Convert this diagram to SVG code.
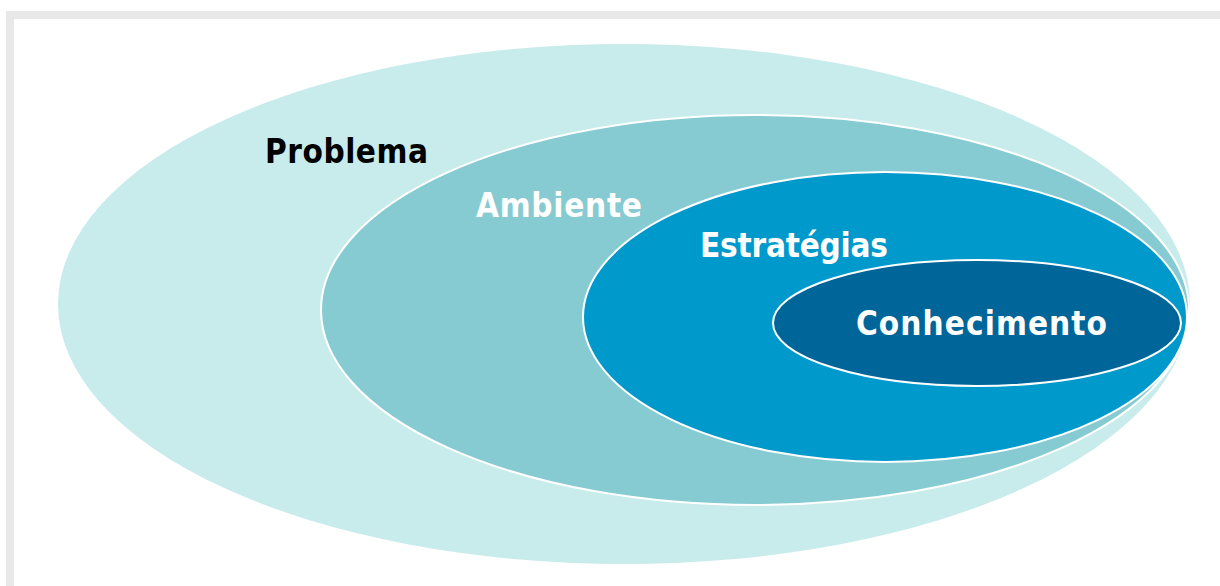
<svg xmlns="http://www.w3.org/2000/svg" width="1220" height="586" viewBox="0 0 1220 586">
<style>
.lbl{font-family:"DejaVu Sans Condensed","DejaVu Sans",sans-serif;font-weight:bold;font-size:33px}
.ring{stroke:#ffffff;stroke-width:2}
</style>
<rect x="0" y="0" width="1220" height="586" fill="#ffffff"/>
<rect x="6" y="11" width="1214" height="8" fill="#e8e8e8"/>
<rect x="6" y="11" width="8" height="575" fill="#e8e8e8"/>
<g id="problema">
<ellipse cx="624" cy="304" rx="566" ry="260" fill="#c8ebeb"/>
<text class="lbl" x="265" y="163" fill="#000000" textLength="163" lengthAdjust="spacing">Problema</text>
</g>
<g id="ambiente">
<ellipse class="ring" cx="755" cy="310" rx="434" ry="195" fill="#86cbd2"/>
<text class="lbl" x="476" y="217" fill="#ffffff" textLength="166" lengthAdjust="spacing">Ambiente</text>
</g>
<g id="estrategias">
<ellipse class="ring" cx="885" cy="317" rx="302" ry="145" fill="#0099cc"/>
<text class="lbl" x="700" y="257" fill="#ffffff" textLength="188" lengthAdjust="spacing">Estratégias</text>
</g>
<g id="conhecimento">
<ellipse class="ring" cx="977" cy="323" rx="204" ry="63" fill="#006699"/>
<text class="lbl" x="856" y="335" fill="#ffffff" textLength="251" lengthAdjust="spacing">Conhecimento</text>
</g>
<g id="connectors"/>
</svg>
